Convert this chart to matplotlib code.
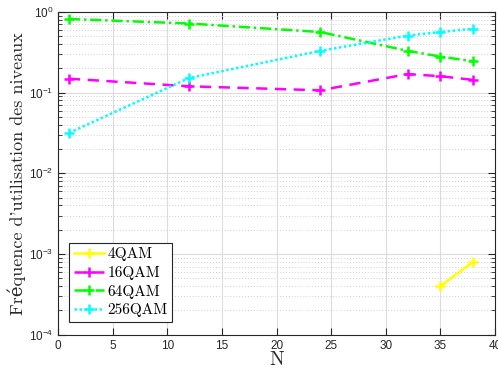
import matplotlib
matplotlib.use("Agg")
import matplotlib.pyplot as plt
from matplotlib.ticker import LogLocator, NullFormatter

# data
n_4qam = [35, 38]
f_4qam = [4.0e-4, 8.0e-4]

n_all = [1, 12, 24, 32, 35, 38]
f_16qam = [0.149, 0.120, 0.107, 0.170, 0.160, 0.144]
f_64qam = [0.82, 0.72, 0.565, 0.33, 0.28, 0.245]
f_256qam = [0.0317, 0.152, 0.33, 0.51, 0.565, 0.62]

labels = ["4QAM", "16QAM", "64QAM", "256QAM"]

plt.rcParams['font.family'] = ['Liberation Sans', 'DejaVu Sans']
plt.rcParams['mathtext.fontset'] = 'custom'
plt.rcParams['mathtext.rm'] = 'Liberation Sans'
plt.rcParams['mathtext.it'] = 'Liberation Sans:italic'

serif = ['cmr10', 'DejaVu Serif']
tick_col = '#262626'

fig = plt.figure(figsize=(4.98, 3.75), dpi=100)
ax = fig.add_axes([0.1165, 0.1075, 0.8775, 0.8605])

kw = dict(marker='+', markersize=7, markeredgewidth=1.8, linewidth=1.8)
ax.plot(n_4qam, f_4qam, '-', color='#ffff00', label=labels[0], **kw)
ax.plot(n_all, f_16qam, '--', color='#ff00ff', label=labels[1], dashes=(4.5, 3), **kw)
ax.plot(n_all, f_64qam, '-.', color='#00ff00', label=labels[2], dashes=(4.5, 1.5, 1, 1.5), **kw)
ax.plot(n_all, f_256qam, ':', color='#00ffff', label=labels[3], dashes=(1, 1), **kw)

ax.set_yscale('log')
ax.set_ylim(1e-4, 1)
ax.set_xlim(0, 40)
ax.set_xticks(range(0, 41, 5))
ax.yaxis.set_major_locator(LogLocator(base=10, numticks=10))
ax.yaxis.set_minor_locator(LogLocator(base=10, subs=range(2, 10), numticks=20))
ax.yaxis.set_minor_formatter(NullFormatter())

ax.grid(True, which='major', color='#dcdcdc', linewidth=0.8)
ax.grid(True, which='minor', axis='y', color='#d0d0d0', linestyle=(0, (1, 2)), linewidth=0.7)
ax.set_axisbelow(True)

ax.tick_params(which='both', direction='in', top=True, right=True, colors=tick_col, labelsize=8.5)
ax.tick_params(which='major', length=5)
ax.tick_params(which='minor', length=3)
for s in ax.spines.values():
    s.set_color(tick_col)
    s.set_linewidth(0.8)

ax.set_xlabel('N', family=serif, fontsize=14, color=tick_col, labelpad=0)
ax.set_ylabel("Fréquence d'utilisation des niveaux", family=serif, fontsize=13,
              color=tick_col, labelpad=2)

leg = ax.legend(loc='lower left', bbox_to_anchor=(0.025, 0.04), prop={'family': serif, 'size': 11},
                fancybox=False, edgecolor=tick_col, framealpha=1, handlelength=2.0,
                handletextpad=0.2, borderpad=0.3, labelspacing=0.3, borderaxespad=0)
leg.get_frame().set_linewidth(0.8)

fig.savefig('out.png', dpi=100)
